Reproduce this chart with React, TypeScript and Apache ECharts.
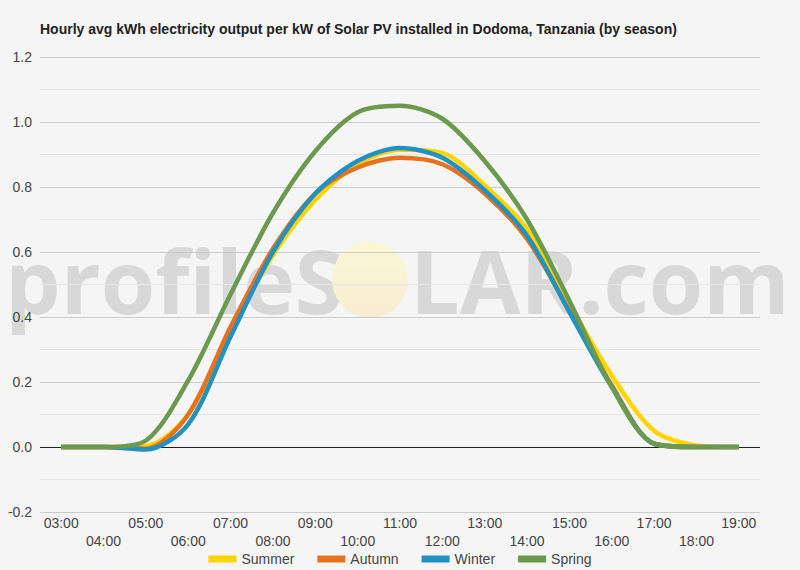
import React, { useEffect, useRef } from "react";
import * as echarts from "echarts";

const hours = ["03:00","04:00","05:00","06:00","07:00","08:00","09:00","10:00","11:00","12:00","13:00","14:00","15:00","16:00","17:00","18:00","19:00"];
const summer = [0, 0, 0.003, 0.1, 0.36, 0.59, 0.76, 0.87, 0.915, 0.905, 0.805, 0.67, 0.44, 0.22, 0.05, 0.005, 0];
const autumn = [0, 0, -0.005, 0.1, 0.37, 0.61, 0.78, 0.86, 0.89, 0.87, 0.78, 0.64, 0.42, 0.19, 0.01, 0, 0];
const winter = [0, 0, -0.008, 0.07, 0.34, 0.6, 0.78, 0.88, 0.92, 0.89, 0.79, 0.65, 0.415, 0.185, 0.01, 0, 0];
const spring = [0, 0, 0.02, 0.205, 0.47, 0.72, 0.91, 1.03, 1.05, 1.01, 0.88, 0.7, 0.45, 0.185, 0.01, 0, 0];
const seriesNames = ["Summer", "Autumn", "Winter", "Spring"];
const seriesColors = ["#ffd400", "#e6721f", "#2190c2", "#6b9a4f"];
const titleText = "Hourly avg kWh electricity output per kW of Solar PV installed in Dodoma, Tanzania (by season)";

export default function App() {
  const ref = useRef<HTMLDivElement>(null);
  useEffect(() => {
    if (!ref.current) return;
    const chart = echarts.init(ref.current, null, { renderer: "svg" });
    const datasets = [summer, autumn, winter, spring];
    const font = 'Arial, "Liberation Sans", sans-serif';
    chart.setOption({
      animation: false,
      backgroundColor: "#f5f5f5",
      title: {
        text: titleText,
        left: 35,
        top: 17,
        textStyle: { fontSize: 14, fontWeight: "bold", color: "#222", fontFamily: font },
      },
      graphic: [
        {
          type: "text",
          z: -10,
          silent: true,
          x: 5,
          y: 280,
          style: {
            text: "profileS",
            font: 'bold 88px "Open Sans"',
            fill: "#d8d8d8",
            textAlign: "left",
            textVerticalAlign: "middle",
          },
        },
        {
          type: "circle",
          z: -10,
          silent: true,
          shape: { cx: 370, cy: 280, r: 38 },
          style: {
            fill: new echarts.graphic.LinearGradient(0, 0, 0, 1, [
              { offset: 0, color: "#fbf8d2" },
              { offset: 1, color: "#f8ecd4" },
            ]),
          },
        },
        {
          type: "text",
          z: -10,
          silent: true,
          x: 410,
          y: 280,
          style: {
            text: "LAR.com",
            font: 'bold 88px "Open Sans"',
            fill: "#d8d8d8",
            textAlign: "left",
            textVerticalAlign: "middle",
          },
        },
      ],
      legend: {
        data: seriesNames,
        left: "center",
        top: 547,
        icon: "rect",
        itemWidth: 28,
        itemHeight: 7,
        itemGap: 23,
        textStyle: { fontSize: 14, color: "#444", fontFamily: font },
      },
      grid: { left: 40, right: 40, top: 57, height: 455 },
      xAxis: {
        type: "category",
        data: hours,
        boundaryGap: true,
        axisLine: { show: false, onZero: false },
        axisTick: { show: false },
        axisLabel: {
          interval: 0,
          margin: 2,
          lineHeight: 18,
          fontSize: 14,
          color: "#444",
          fontFamily: font,
          formatter: (v: string, i: number) => (i % 2 === 1 ? "\n" + v : v),
        },
      },
      yAxis: {
        type: "value",
        min: -0.2,
        max: 1.2,
        interval: 0.2,
        axisLine: { show: false },
        axisTick: { show: false },
        axisLabel: {
          fontSize: 14,
          color: "#444",
          margin: 8,
          fontFamily: font,
          formatter: (v: number) => v.toFixed(1),
        },
        splitLine: { show: true, lineStyle: { color: "#cccccc", width: 1 } },
        minorTick: { show: false, splitNumber: 2 },
        minorSplitLine: { show: true, lineStyle: { color: "#e6e6e6", width: 1 } },
      },
      series: datasets.map((d, i) => ({
        name: seriesNames[i],
        type: "line",
        data: d,
        smooth: 0.3,
        showSymbol: false,
        symbol: "none",
        lineStyle: { width: 4.5, color: seriesColors[i] },
        itemStyle: { color: seriesColors[i] },
        z: 3 + i,
        markLine:
          i === 0
            ? {
                silent: true,
                symbol: "none",
                label: { show: false },
                lineStyle: { color: "#222", width: 1, type: "solid" },
                data: [{ yAxis: 0 }],
                z: 1,
              }
            : undefined,
      })),
    });
    return () => chart.dispose();
  }, []);
  return (
    <div
      ref={ref}
      style={{ position: "fixed", left: 0, top: 0, width: 800, height: 570 }}
    />
  );
}
